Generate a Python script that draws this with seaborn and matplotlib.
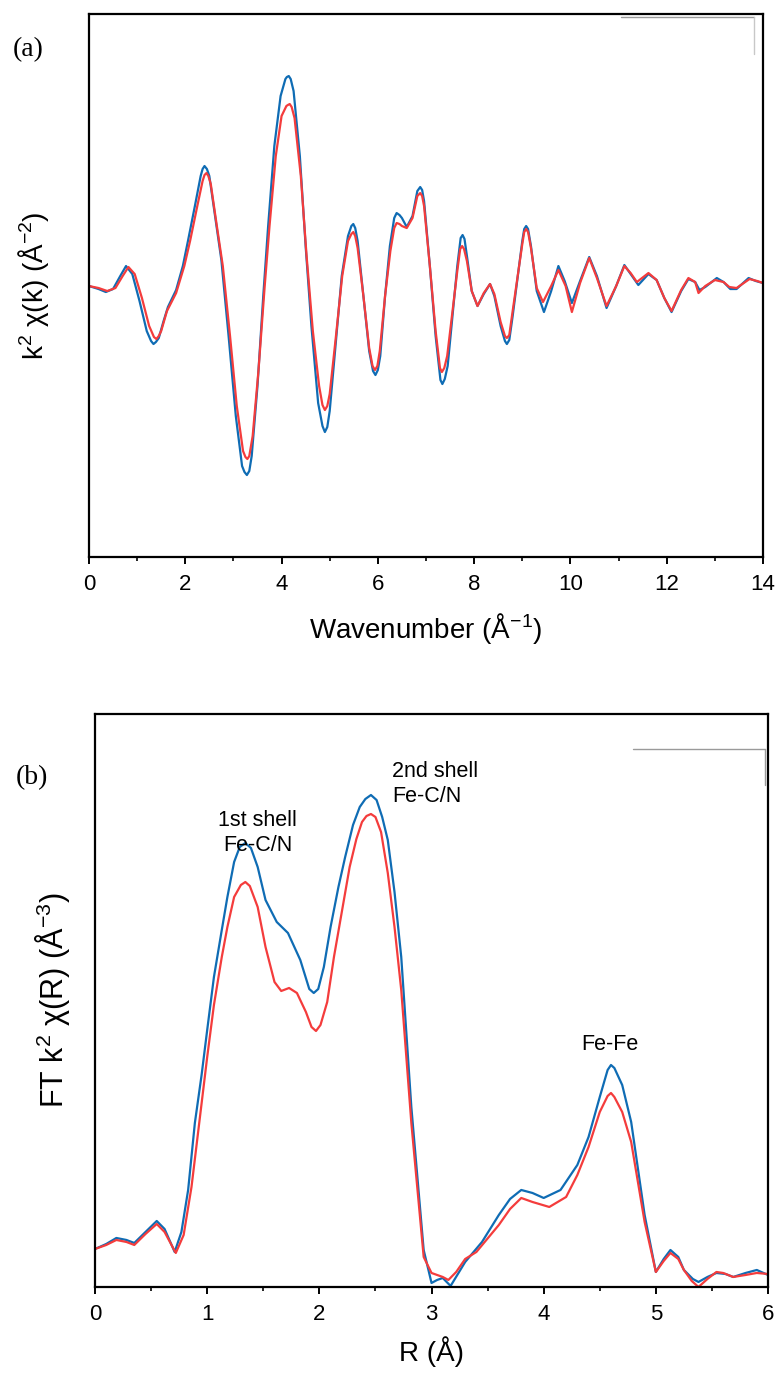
import numpy as np
import pandas as pd
import matplotlib
matplotlib.use("Agg")
import matplotlib.pyplot as plt
import seaborn as sns

# ---------------- data ----------------
k_blue = [0.0, 0.2, 0.35, 0.5, 0.65, 0.77, 0.9, 1.05, 1.2, 1.29, 1.34, 1.39, 1.45, 1.55, 1.64,
          1.81, 1.95, 2.06, 2.2, 2.32, 2.36, 2.40, 2.45, 2.5, 2.62, 2.75, 2.9, 3.05, 3.18, 3.23,
          3.28, 3.33, 3.38, 3.5, 3.62, 3.72, 3.85, 3.98, 4.08, 4.11, 4.15, 4.19, 4.25, 4.38,
          4.5, 4.62, 4.76, 4.85, 4.9, 4.95, 5.0, 5.12, 5.25, 5.38, 5.45, 5.49, 5.53, 5.58, 5.7,
          5.82, 5.9, 5.95, 6.0, 6.05, 6.15, 6.25, 6.34, 6.39, 6.45, 6.5, 6.60, 6.72, 6.82, 6.88,
          6.92, 6.96, 7.08, 7.2, 7.30, 7.34, 7.39, 7.45, 7.55, 7.65, 7.72, 7.76, 7.80, 7.85,
          7.95, 8.07, 8.2, 8.33, 8.42, 8.55, 8.64, 8.68, 8.73, 8.8, 8.92, 9.0, 9.04, 9.08, 9.12,
          9.18, 9.3, 9.45, 9.6, 9.75, 9.88, 10.03, 10.2, 10.39, 10.55, 10.75, 10.95, 11.12,
          11.25, 11.41, 11.62, 11.79, 11.95, 12.10, 12.3, 12.45, 12.59, 12.68, 12.80, 13.04,
          13.18, 13.32, 13.45, 13.70, 13.85, 14.0]
chi_blue = [0, -3, -6, -3, 10, 20, 12, -15, -45, -55, -58, -56, -52, -35, -21,
            -4, 20, 46, 80, 110, 117, 120, 117, 110, 70, 26, -50, -130, -180, -186,
            -189, -185, -170, -100, -10, 59, 140, 190, 207, 209, 210, 207, 195, 130,
            40, -40, -117, -140, -146, -141, -125, -60, 10, 50, 60, 62, 58, 45, -10,
            -65, -85, -89, -84, -70, -10, 40, 68, 73, 71, 68, 59, 70, 95, 99,
            96, 85, 20, -50, -94, -98, -93, -80, -30, 20, 48, 51, 47, 30,
            -5, -20, -8, 2, -10, -40, -55, -58, -54, -30, 15, 45, 57, 60, 57,
            40, -5, -26, -5, 20, 5, -17, 5, 29, 10, -22, 0, 21,
            12, 1, 12, 6, -12, -26, -5, 7, 4, -4, -1, 8,
            4, -3, -3, 8, 5, 3]

k_red = [0.0, 0.2, 0.38, 0.55, 0.7, 0.82, 0.95, 1.1, 1.25, 1.35, 1.40, 1.45, 1.5, 1.62, 1.81,
         1.98, 2.1, 2.25, 2.36, 2.40, 2.44, 2.48, 2.53, 2.65, 2.78, 2.93, 3.07, 3.2, 3.25, 3.29,
         3.33, 3.4, 3.52, 3.65, 3.75, 3.88, 4.0, 4.1, 4.13, 4.17, 4.21, 4.27, 4.4, 4.52, 4.65,
         4.78, 4.85, 4.9, 4.95, 5.0, 5.13, 5.26, 5.38, 5.45, 5.49, 5.53, 5.58, 5.7, 5.82, 5.89,
         5.94, 5.99, 6.04, 6.15, 6.26, 6.34, 6.39, 6.45, 6.5, 6.60, 6.72, 6.82, 6.88, 6.92, 6.96,
         7.08, 7.2, 7.29, 7.33, 7.38, 7.44, 7.55, 7.65, 7.71, 7.75, 7.79, 7.85, 7.95, 8.07, 8.2,
         8.33, 8.42, 8.55, 8.64, 8.68, 8.73, 8.8, 8.92, 9.0, 9.04, 9.08, 9.12, 9.18, 9.3, 9.43,
         9.6, 9.75, 9.9, 10.03, 10.2, 10.39, 10.55, 10.75, 10.95, 11.12, 11.25, 11.38, 11.62,
         11.79, 11.95, 12.10, 12.3, 12.45, 12.59, 12.66, 12.80, 13.0, 13.18, 13.30, 13.45,
         13.72, 13.88, 14.0]
chi_red = [0, -2, -5, -2, 10, 19, 12, -12, -40, -51, -53, -50, -45, -25, -7,
           20, 45, 80, 105, 111, 113, 110, 102, 62, 20, -50, -120, -165, -171, -173,
           -170, -150, -85, 0, 60, 130, 170, 180, 181, 182, 179, 168, 110, 30, -45,
           -100, -119, -124, -120, -108, -50, 10, 45, 52, 54, 50, 38, -10, -62, -80,
           -84, -80, -65, -10, 35, 58, 63, 62, 60, 58, 68, 90, 93, 90, 80,
           20, -45, -82, -86, -82, -70, -25, 15, 37, 40, 37, 25, -5, -20, -7,
           2, -8, -36, -50, -52, -49, -25, 15, 42, 54, 57, 54, 38, -2, -16,
           0, 16, 0, -26, 3, 28, 8, -20, 0, 20, 13, 4, 13,
           6, -12, -25, -4, 8, 4, -7, 0, 6, 4, -1, -2,
           7, 5, 3]

r_blue = [0.0, 0.1, 0.19, 0.28, 0.35, 0.45, 0.55, 0.62, 0.71, 0.77, 0.83, 0.89, 0.95, 1.0,
          1.06, 1.13, 1.18, 1.24, 1.29, 1.34, 1.39, 1.45, 1.52, 1.62, 1.72, 1.83, 1.91, 1.95,
          1.99, 2.04, 2.1, 2.17, 2.23, 2.3, 2.36, 2.41, 2.46, 2.51, 2.56, 2.61, 2.67, 2.73,
          2.82, 2.93, 3.0, 3.05, 3.1, 3.17, 3.3, 3.45, 3.6, 3.7, 3.8, 3.9, 4.0, 4.15, 4.3,
          4.4, 4.5, 4.57, 4.6, 4.63, 4.7, 4.78, 4.9, 5.0, 5.07, 5.13, 5.2, 5.25, 5.33, 5.38,
          5.46, 5.54, 5.62, 5.69, 5.8, 5.9, 6.0]
ft_blue = [38, 43, 49, 47, 44, 55, 66, 58, 35, 55, 97, 164, 212, 257,
           310, 357, 390, 425, 440, 444, 439, 420, 387, 365, 354, 327, 298, 294,
           298, 320, 360, 400, 430, 462, 480, 488, 492, 487, 470, 447, 395, 330,
           180, 37, 4, 7, 9, 1, 25, 45, 72, 88, 97, 94, 89, 97, 122,
           150, 190, 217, 222, 219, 202, 165, 72, 15, 28, 37, 30, 17, 8, 5,
           10, 14, 13, 10, 14, 17, 12]

r_red = [0.0, 0.1, 0.19, 0.28, 0.35, 0.45, 0.55, 0.62, 0.72, 0.79, 0.86, 0.93, 1.0, 1.06,
         1.13, 1.18, 1.24, 1.30, 1.34, 1.38, 1.45, 1.52, 1.6, 1.66, 1.73, 1.8, 1.88, 1.93,
         1.97, 2.01, 2.07, 2.13, 2.2, 2.27, 2.33, 2.38, 2.42, 2.46, 2.50, 2.55, 2.61, 2.67,
         2.73, 2.82, 2.93, 3.0, 3.1, 3.15, 3.22, 3.3, 3.4, 3.6, 3.7, 3.8, 3.9, 4.05, 4.2,
         4.3, 4.4, 4.5, 4.57, 4.6, 4.63, 4.7, 4.78, 4.9, 5.0, 5.07, 5.13, 5.2, 5.25, 5.32,
         5.38, 5.46, 5.54, 5.6, 5.69, 5.8, 5.9, 6.0]
ft_red = [38, 42, 47, 45, 42, 53, 63, 55, 34, 52, 100, 165, 230, 282,
          330, 360, 390, 402, 405, 401, 380, 340, 305, 296, 299, 294, 275, 260,
          256, 262, 285, 330, 375, 420, 448, 465, 471, 473, 470, 455, 414, 360,
          297, 164, 30, 14, 10, 7, 15, 28, 35, 62, 78, 89, 85, 80, 90,
          112, 140, 175, 191, 194, 190, 175, 145, 65, 15, 26, 34, 28, 17, 6,
          0, 8, 15, 14, 10, 12, 14, 13]

series_names = ["exp", "fit"]
colors = {"exp": "#0f6cb4", "fit": "#f43c3c"}
k_ticks = [0, 2, 4, 6, 8, 10, 12, 14]
r_ticks = [0, 1, 2, 3, 4, 5, 6]

df_k = pd.concat([
    pd.DataFrame({"x": k_blue, "y": chi_blue, "s": series_names[0]}),
    pd.DataFrame({"x": k_red, "y": chi_red, "s": series_names[1]}),
], ignore_index=True)
df_r = pd.concat([
    pd.DataFrame({"x": r_blue, "y": ft_blue, "s": series_names[0]}),
    pd.DataFrame({"x": r_red, "y": ft_red, "s": series_names[1]}),
], ignore_index=True)

# ---------------- style ----------------
sns.set_theme(style="white")
plt.rcParams["font.family"] = ["Liberation Sans", "DejaVu Sans"]
plt.rcParams["mathtext.fontset"] = "custom"
plt.rcParams["mathtext.rm"] = "Liberation Sans"
plt.rcParams["mathtext.it"] = "Liberation Sans:italic"
plt.rcParams["mathtext.default"] = "regular"
plt.rcParams["text.color"] = "black"
plt.rcParams["axes.labelcolor"] = "black"
plt.rcParams["xtick.color"] = "black"
plt.rcParams["xtick.labelcolor"] = "black"

fig = plt.figure(figsize=(7.79, 13.76), dpi=100)
ax1 = fig.add_axes([0.1142, 0.5952, 0.8653, 0.3946])
ax2 = fig.add_axes([0.1220, 0.0647, 0.8639, 0.4164])

for ax, df in ((ax1, df_k), (ax2, df_r)):
    sns.lineplot(data=df, x="x", y="y", hue="s", palette=colors, estimator=None,
                 sort=True, legend=False, linewidth=1.6, ax=ax)
    for sp in ax.spines.values():
        sp.set_linewidth(1.6)
        sp.set_color("black")
    ax.set_yticks([])
    ax.tick_params(axis="x", which="major", direction="out", length=5, width=1.4,
                   pad=7, labelsize=16, bottom=True, colors="black")
    ax.tick_params(axis="x", which="minor", direction="out", length=3, width=1.2,
                   bottom=True)

# top panel
ax1.set_xlim(0, 14)
ax1.set_ylim(-271, 272)
ax1.set_xticks(k_ticks)
ax1.set_xticks(np.arange(1, 14, 2), minor=True)
ax1.set_xlabel("Wavenumber (Å$^{-1}$)", fontsize=20, labelpad=12)
ax1.set_ylabel("k$^{2}$ χ(k) (Å$^{-2}$)", fontsize=20, labelpad=0)
ax1.yaxis.set_label_coords(-0.056, 0.5)
ax1.plot([0.789, 0.987], [0.9945, 0.9945], transform=ax1.transAxes, color="#9a9a9a", lw=1.0)
ax1.plot([0.987, 0.987], [0.9945, 0.926], transform=ax1.transAxes, color="#c8c8c8", lw=1.0)

# bottom panel
ax2.set_xlim(0, 6)
ax2.set_ylim(0, 573)
ax2.set_xticks(r_ticks)
ax2.set_xticks(np.arange(0.5, 6, 1), minor=True)
ax2.set_xlabel("R (Å)", fontsize=20, labelpad=8)
ax2.set_ylabel("FT k$^{2}$ χ(R) (Å$^{-3}$)", fontsize=22, labelpad=0)
ax2.yaxis.set_label_coords(-0.034, 0.5)
ax2.plot([0.799, 0.9955], [0.939, 0.939], transform=ax2.transAxes, color="#9a9a9a", lw=1.0)
ax2.plot([0.9955, 0.9955], [0.939, 0.876], transform=ax2.transAxes, color="#9a9a9a", lw=1.0)

ax2.text(1.45, 454, "1st shell\nFe-C/N", ha="center", va="center", fontsize=15.5,
         linespacing=1.3)
ax2.text(2.65, 503, "2nd shell\nFe-C/N", ha="left", va="center", fontsize=15.5,
         linespacing=1.3)
ax2.text(4.59, 242, "Fe-Fe", ha="center", va="center", fontsize=15.5)

fig.text(28 / 779, 1 - 50 / 1376, "(a)", ha="center", va="center", fontsize=20,
         family=["Liberation Serif", "DejaVu Serif"])
fig.text(32 / 779, 1 - 778 / 1376, "(b)", ha="center", va="center", fontsize=20,
         family=["Liberation Serif", "DejaVu Serif"])

fig.savefig("out.png", dpi=100)
